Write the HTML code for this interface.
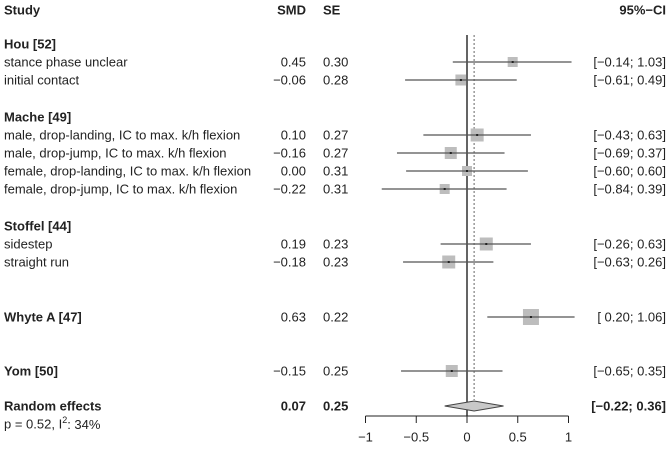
<!DOCTYPE html>
<html><head><meta charset="utf-8"><style>
html,body{margin:0;padding:0;background:#fff;}
svg{display:block;font-family:"Liberation Sans",Arial,sans-serif;}
</style></head><body>
<svg id="chart" width="668" height="450" viewBox="0 0 668 450">
<g id="txt" font-size="13" fill="#222"></g>
<g id="marks"></g>
</svg>
<script>
const labels=["stance phase unclear","initial contact","male, drop-landing, IC to max. k/h flexion","male, drop-jump, IC to max. k/h flexion","female, drop-landing, IC to max. k/h flexion","female, drop-jump, IC to max. k/h flexion","sidestep","straight run","Whyte A [47]","Yom [50]"];
const rowY=[62,80,135,153,171,189,244,262,317,371];
const smd=[0.45,-0.06,0.10,-0.16,0.00,-0.22,0.19,-0.18,0.63,-0.15];
const se=[0.30,0.28,0.27,0.27,0.31,0.31,0.23,0.23,0.22,0.25];
const lo=[-0.14,-0.61,-0.43,-0.69,-0.60,-0.84,-0.26,-0.63,0.20,-0.65];
const hi=[1.03,0.49,0.63,0.37,0.60,0.39,0.63,0.26,1.06,0.35];
const boxSize=[10,11,13,12,10,10,13,13,16,12];
const bold=[false,false,false,false,false,false,false,false,true,true];
const groups=[["Hou [52]",44],["Mache [49]",117],["Stoffel [44]",226]];
const pooled=[0.07,0.25,-0.22,0.36];
const ticks=[-1,-0.5,0,0.5,1];
const NS="http://www.w3.org/2000/svg";
const x=v=>467+v*101.5;
const T=document.getElementById('txt'),M=document.getElementById('marks');
function el(p,tag,a){const e=document.createElementNS(NS,tag);for(const k in a)e.setAttribute(k,a[k]);p.appendChild(e);return e;}
function tx(s,X,Y,anchor,b){const e=el(T,'text',{x:X,y:Y,'text-anchor':anchor||'start','dominant-baseline':'central'});if(b)e.setAttribute('font-weight','bold');e.textContent=s;return e;}
const fmt=v=>(v<0?"\u2212":"")+Math.abs(v).toFixed(2);
const fmtCI=(a,b)=>"["+(a<0?"\u2212":" ")+Math.abs(a).toFixed(2)+"; "+fmt(b)+"]";
let h;
h=tx("Study",4,10,'start',true);
h=tx("SMD",306,10,'end',true);
h=tx("SE",323,10,'start',true);
h=tx("95%\u2212CI",666,10,'end',true);
groups.forEach(g=>{const e=tx(g[0],4,g[1],'start',true);

});
// reference lines
const zl=el(M,'line',{x1:x(0),x2:x(0),y1:35,y2:416,stroke:'#111','stroke-width':1.3});


const dl=el(M,'line',{x1:x(pooled[0]),x2:x(pooled[0]),y1:35,y2:400,stroke:'#666','stroke-width':1,'stroke-dasharray':'2,2'});


labels.forEach((l,i)=>{const y=rowY[i];
let e=tx(l,4,y,'start',bold[i]);


e=tx(fmt(smd[i]),306,y,'end');


e=tx(se[i].toFixed(2),323,y,'start');


e=tx(fmtCI(lo[i],hi[i]),666,y,'end');


const s=boxSize[i];
const b=el(M,'rect',{x:x(smd[i])-s/2,y:y-s/2,width:s,height:s,fill:'#bdbdbd'});


const ln=el(M,'line',{x1:x(lo[i]),x2:x(hi[i]),y1:y,y2:y,stroke:'#555','stroke-width':1.3});


const d=el(M,'rect',{x:x(smd[i])-1,y:y-1,width:2,height:2,fill:'#222'});


});
const py=406;
let e=tx("Random effects",4,py,'start',true);
e=tx(fmt(pooled[0]),306,py,'end',true);
e=tx(pooled[1].toFixed(2),323,py,'start',true);
e=tx(fmtCI(pooled[2],pooled[3]),666,py,'end',true);
e=tx("",4,424,'start');
e.innerHTML='p = 0.52, I<tspan font-size="9" dy="-4">2</tspan><tspan dy="4">: 34%</tspan>';
const dia=el(M,'polygon',{points:`${x(pooled[2])},${py} ${x(pooled[0])},${py-5} ${x(pooled[3])},${py} ${x(pooled[0])},${py+5}`,fill:'#c8c8c8',stroke:'#444','stroke-width':1});


const ax=el(M,'line',{x1:x(ticks[0]),x2:x(ticks[ticks.length-1]),y1:416,y2:416,stroke:'#222','stroke-width':1});


ticks.forEach(t=>{const tk=el(M,'line',{x1:x(t),x2:x(t),y1:416,y2:423,stroke:'#222'});


const l=tx(t===0?"0":(t<0?"\u2212":"")+Math.abs(t),x(t),437,'middle');

});
</script>
</body></html>
